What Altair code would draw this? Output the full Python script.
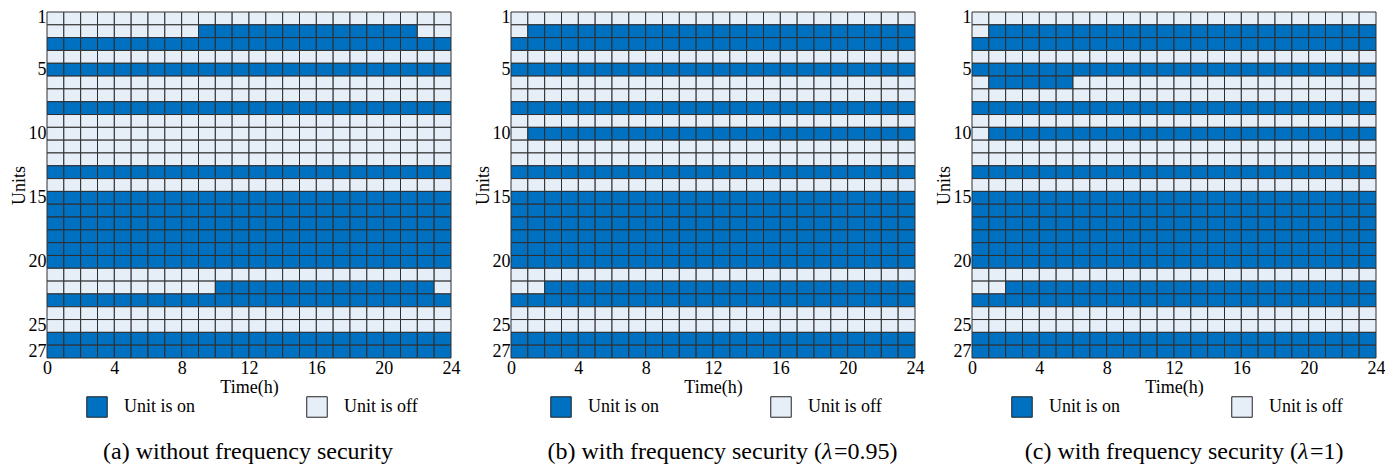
import altair as alt
import pandas as pd

# ---------------- data ----------------
UNITS = list(range(1, 28))
HOURS = list(range(24))
X_TICKS = [0, 4, 8, 12, 16, 20, 24]
Y_TICKS = [1, 5, 10, 15, 20, 25, 27]
STATES = ["Unit is on", "Unit is off"]
COLORS = ["#0070C0", "#E6EEF7"]

# one string per unit (1..27), one character per hour (0..23): 1 = on, 0 = off
status_a = [
    "000000000000000000000000",  # 1
    "000000000111111111111100",  # 2
    "111111111111111111111111",  # 3
    "000000000000000000000000",  # 4
    "111111111111111111111111",  # 5
    "000000000000000000000000",  # 6
    "000000000000000000000000",  # 7
    "111111111111111111111111",  # 8
    "000000000000000000000000",  # 9
    "000000000000000000000000",  # 10
    "000000000000000000000000",  # 11
    "000000000000000000000000",  # 12
    "111111111111111111111111",  # 13
    "000000000000000000000000",  # 14
    "111111111111111111111111",  # 15
    "111111111111111111111111",  # 16
    "111111111111111111111111",  # 17
    "111111111111111111111111",  # 18
    "111111111111111111111111",  # 19
    "111111111111111111111111",  # 20
    "000000000000000000000000",  # 21
    "000000000011111111111110",  # 22
    "111111111111111111111111",  # 23
    "000000000000000000000000",  # 24
    "000000000000000000000000",  # 25
    "111111111111111111111111",  # 26
    "111111111111111111111111",  # 27
]
status_b = [
    "000000000000000000000000",  # 1
    "011111111111111111111111",  # 2
    "111111111111111111111111",  # 3
    "000000000000000000000000",  # 4
    "111111111111111111111111",  # 5
    "000000000000000000000000",  # 6
    "000000000000000000000000",  # 7
    "111111111111111111111111",  # 8
    "000000000000000000000000",  # 9
    "011111111111111111111111",  # 10
    "000000000000000000000000",  # 11
    "000000000000000000000000",  # 12
    "111111111111111111111111",  # 13
    "000000000000000000000000",  # 14
    "111111111111111111111111",  # 15
    "111111111111111111111111",  # 16
    "111111111111111111111111",  # 17
    "111111111111111111111111",  # 18
    "111111111111111111111111",  # 19
    "111111111111111111111111",  # 20
    "000000000000000000000000",  # 21
    "001111111111111111111111",  # 22
    "111111111111111111111111",  # 23
    "000000000000000000000000",  # 24
    "000000000000000000000000",  # 25
    "111111111111111111111111",  # 26
    "111111111111111111111111",  # 27
]
status_c = [
    "000000000000000000000000",  # 1
    "011111111111111111111111",  # 2
    "111111111111111111111111",  # 3
    "000000000000000000000000",  # 4
    "111111111111111111111111",  # 5
    "011111000000000000000000",  # 6
    "000000000000000000000000",  # 7
    "111111111111111111111111",  # 8
    "000000000000000000000000",  # 9
    "011111111111111111111111",  # 10
    "000000000000000000000000",  # 11
    "000000000000000000000000",  # 12
    "111111111111111111111111",  # 13
    "000000000000000000000000",  # 14
    "111111111111111111111111",  # 15
    "111111111111111111111111",  # 16
    "111111111111111111111111",  # 17
    "111111111111111111111111",  # 18
    "111111111111111111111111",  # 19
    "111111111111111111111111",  # 20
    "000000000000000000000000",  # 21
    "001111111111111111111111",  # 22
    "111111111111111111111111",  # 23
    "000000000000000000000000",  # 24
    "000000000000000000000000",  # 25
    "111111111111111111111111",  # 26
    "111111111111111111111111",  # 27
]
# caption pieces: plain text, italic symbol, plain text
captions = [
    ("(a) without frequency security", "", ""),
    ("(b) with frequency security (", "λ", "=0.95)"),
    ("(c) with frequency security (", "λ", "=1)"),
]

# ---------------- styling ----------------
FONT = "Times New Roman, Liberation Serif, serif"
W, H = 404, 346
FS = 18
CAP_FS = 24
LAMBDA_W = 12


def panel(status, cap, split_offset):
    rows = []
    for u, s in zip(UNITS, status):
        for h, c in zip(HOURS, s):
            rows.append({"unit": u, "hour": h, "hour_end": h + 1,
                         "state": STATES[0] if c == "1" else STATES[1]})
    df = pd.DataFrame(rows)

    heat = alt.Chart(df).mark_rect(stroke="#2e2e2e", strokeWidth=1).encode(
        x=alt.X("hour:Q",
                scale=alt.Scale(domain=[0, 24], nice=False, zero=False),
                axis=alt.Axis(values=X_TICKS, title="Time(h)", labelFlush=False,
                              labelPadding=1, titlePadding=1, format="d")),
        x2="hour_end:Q",
        y=alt.Y("unit:O",
                scale=alt.Scale(domain=UNITS, paddingInner=0, paddingOuter=0),
                axis=alt.Axis(values=Y_TICKS, title="Units", labelAngle=0,
                              labelPadding=1, titlePadding=0,
                              labelBaseline="middle")),
        color=alt.Color("state:N", scale=alt.Scale(domain=STATES, range=COLORS),
                        legend=None),
    )

    layers = [heat]
    leg_x = [50, 270]
    leg_y = H + 49
    for i, st in enumerate(STATES):
        d = pd.DataFrame({"label": [st]})
        layers.append(
            alt.Chart(d).mark_square(size=420, filled=True, fill=COLORS[i],
                                     stroke="#222222", strokeWidth=1, opacity=1)
            .encode(x=alt.value(leg_x[i]), y=alt.value(leg_y))
        )
        layers.append(
            alt.Chart(d).mark_text(align="left", baseline="middle", font=FONT,
                                   fontSize=FS, color="black")
            .encode(x=alt.value(leg_x[i] + 27), y=alt.value(leg_y), text="label:N")
        )

    cap_y = H + 94
    p1, p2, p3 = cap
    cx = W / 2
    if not p2:
        d = pd.DataFrame({"t": [p1]})
        layers.append(
            alt.Chart(d).mark_text(align="center", baseline="middle", font=FONT,
                                   fontSize=CAP_FS, color="black")
            .encode(x=alt.value(cx - 1), y=alt.value(cap_y), text="t:N")
        )
    else:
        sx = cx + split_offset
        d1 = pd.DataFrame({"t": [p1]})
        d2 = pd.DataFrame({"t": [p2]})
        d3 = pd.DataFrame({"t": [p3]})
        layers.append(
            alt.Chart(d1).mark_text(align="right", baseline="middle", font=FONT,
                                    fontSize=CAP_FS, color="black")
            .encode(x=alt.value(sx), y=alt.value(cap_y), text="t:N")
        )
        layers.append(
            alt.Chart(d2).mark_text(align="left", baseline="middle", font=FONT,
                                    fontSize=CAP_FS, fontStyle="italic", color="black")
            .encode(x=alt.value(sx), y=alt.value(cap_y), text="t:N")
        )
        layers.append(
            alt.Chart(d3).mark_text(align="left", baseline="middle", font=FONT,
                                    fontSize=CAP_FS, color="black")
            .encode(x=alt.value(sx + LAMBDA_W), y=alt.value(cap_y), text="t:N")
        )

    return alt.layer(*layers).properties(width=W, height=H)


pa = panel(status_a, captions[0], 0)
pb = panel(status_b, captions[1], 109)
pc = panel(status_c, captions[2], 124)

chart = (
    alt.hconcat(pa, alt.hconcat(pb, pc, spacing=11), spacing=14)
    .properties(padding={"left": 2, "top": 0, "right": 0, "bottom": 0})
    .configure_view(strokeWidth=0)
    .configure_axis(labelFont=FONT, titleFont=FONT, labelFontSize=FS,
                    titleFontSize=FS, titleFontWeight="normal",
                    labelColor="black", titleColor="black",
                    domain=False, ticks=False, grid=False)
)

chart.save("out.html", embed_options={"renderer": "svg", "actions": False})
